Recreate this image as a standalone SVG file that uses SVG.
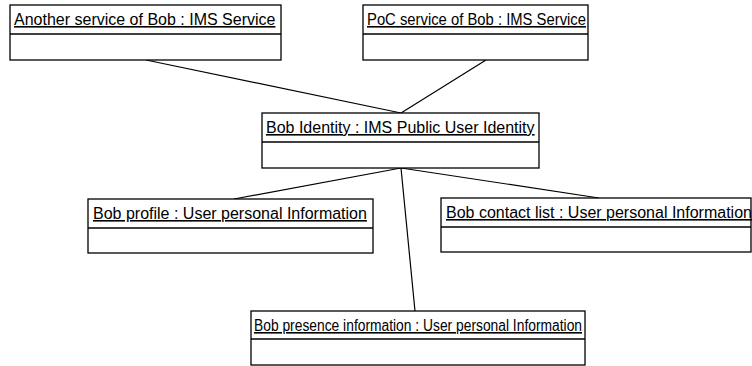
<svg xmlns="http://www.w3.org/2000/svg" width="752" height="366" viewBox="0 0 752 366">
<style>
.box{fill:#fff;stroke:#000;stroke-width:1.3}
.div{stroke:#000;stroke-width:1.3}
.lbl{font-family:"Liberation Sans",Arial,sans-serif;font-size:16px;fill:#000;text-decoration:underline}
.con{stroke:#000;stroke-width:1.2;fill:none}
</style>
<rect width="752" height="366" fill="#fff"/>
<g id="connectors">
<line class="con" x1="146" y1="60" x2="401" y2="113"/>
<line class="con" x1="486" y1="60" x2="401" y2="113"/>
<line class="con" x1="401" y1="168" x2="234" y2="199"/>
<line class="con" x1="401" y1="168" x2="599" y2="198"/>
<line class="con" x1="401" y1="168" x2="415" y2="311"/>
</g>
<g id="another">
<rect class="box" x="10" y="5" width="271" height="55"/>
<line class="div" x1="10" y1="34" x2="281" y2="34"/>
<text class="lbl" x="14" y="25">Another service of Bob : IMS Service</text>
</g>
<g id="poc">
<rect class="box" x="363" y="5" width="225" height="55"/>
<line class="div" x1="363" y1="34" x2="588" y2="34"/>
<text class="lbl" x="367" y="25" textLength="219" lengthAdjust="spacingAndGlyphs">PoC service of Bob : IMS Service</text>
</g>
<g id="identity">
<rect class="box" x="262" y="113" width="277" height="55"/>
<line class="div" x1="262" y1="142" x2="539" y2="142"/>
<text class="lbl" x="266" y="133">Bob Identity : IMS Public User Identity</text>
</g>
<g id="profile">
<rect class="box" x="88" y="199" width="285" height="54"/>
<line class="div" x1="88" y1="228" x2="373" y2="228"/>
<text class="lbl" x="93" y="219">Bob profile : User personal Information</text>
</g>
<g id="contact">
<rect class="box" x="441" y="198" width="310" height="54"/>
<line class="div" x1="441" y1="227" x2="751" y2="227"/>
<text class="lbl" x="446" y="218">Bob contact list : User personal Information</text>
</g>
<g id="presence">
<rect class="box" x="251" y="311" width="334" height="54"/>
<line class="div" x1="251" y1="339" x2="585" y2="339"/>
<text class="lbl" x="254" y="331" textLength="328" lengthAdjust="spacingAndGlyphs">Bob presence information : User personal Information</text>
</g>
</svg>
